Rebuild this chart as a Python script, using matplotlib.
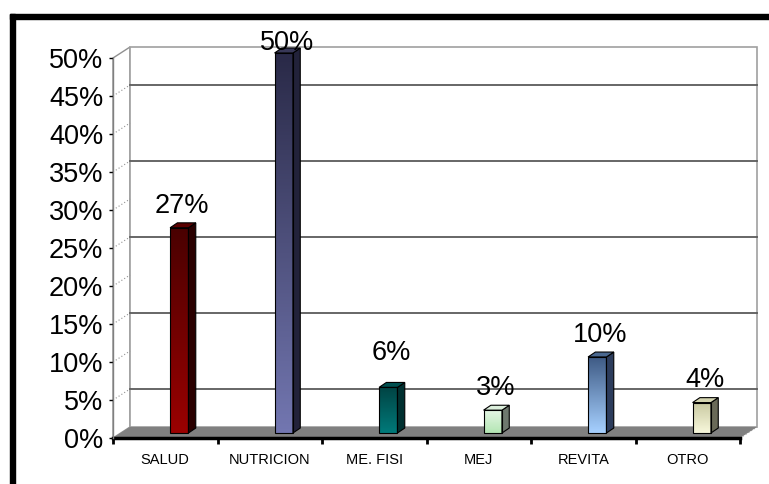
import numpy as np
import matplotlib.pyplot as plt
from matplotlib.patches import Polygon, Rectangle
from matplotlib.colors import LinearSegmentedColormap

plt.rcParams['font.family'] = ['Liberation Sans', 'DejaVu Sans']

categorias = ['SALUD', 'NUTRICION', 'ME. FISI', 'MEJ', 'REVITA', 'OTRO']
valores = [27, 50, 6, 3, 10, 4]
# (arriba, abajo, lado, tapa)
colores = [
    ('#4a0000', '#9a0000', '#2a0000', '#5a0000'),
    ('#2a2a48', '#7276b0', '#22223a', '#383858'),
    ('#004444', '#007a7a', '#003030', '#005050'),
    ('#e4f6e4', '#b4e6b4', '#6e786e', '#dcefdc'),
    ('#3e5a84', '#a6d0ff', '#2c3c5c', '#4a6890'),
    ('#c8c8a0', '#f8f8dc', '#6a6a58', '#d4d4b0'),
]
yticks = list(range(0, 51, 5))
grid_vals = [5, 15, 25, 35, 45]

fig = plt.figure(figsize=(7.69, 4.84), dpi=100)
ax = fig.add_axes([113 / 769, 46 / 484, 627 / 769, 380 / 484])

# profundidad del 3D (unidades de datos)
dx, dy = 0.163, 1.45
bdx, bdy = 0.07, 0.65
shift, hw, fy = 0.134, 0.088, 0.66
n = len(categorias)
xl, xr = -0.5, n - 0.5

# piso
ax.add_patch(Polygon([(xl, 0), (xr, 0), (xr + dx, dy), (xl + dx, dy)],
                     closed=True, facecolor='#808080', edgecolor='none',
                     zorder=1, clip_on=False))
# pared lateral y pared del fondo
ax.add_patch(Polygon([(xl, 0), (xl, 50), (xl + dx, 50 + dy), (xl + dx, dy)],
                     closed=True, facecolor='white', edgecolor='#909090',
                     lw=1, zorder=0.5, clip_on=False))
ax.add_patch(Rectangle((xl + dx, dy), xr - xl, 50, facecolor='white',
                       edgecolor='#a0a0a0', lw=1.2, zorder=0.5, clip_on=False))
for g in grid_vals:
    ax.plot([xl + dx, xr + dx], [g + dy, g + dy], color='#5a5a5a', lw=1.3,
            zorder=0.8, clip_on=False)
for t in yticks[1:-1]:
    ax.plot([xl, xl + dx], [t, t + dy], color='#909090', lw=0.8,
            ls=(0, (1, 2)), zorder=0.8, clip_on=False)
ax.plot([xr, xr + dx], [0, dy], color='#909090', lw=0.8, ls=(0, (1, 2)),
        zorder=1.1, clip_on=False)

# desplazamiento vertical de cada etiqueta (puntos)
lift = [3, -6, 12, 3, 3, 3]

# barras
grad = np.linspace(0, 1, 64).reshape(-1, 1)
for i, (v, c) in enumerate(zip(valores, colores)):
    x0, x1 = i + shift - hw, i + shift + hw
    cmap = LinearSegmentedColormap.from_list('g%d' % i, [c[1], c[0]])
    ax.imshow(grad, extent=(x0, x1, fy, fy + v), origin='lower', cmap=cmap,
              aspect='auto', zorder=3, clip_on=False, interpolation='bilinear')
    ax.add_patch(Rectangle((x0, fy), x1 - x0, v, facecolor='none',
                           edgecolor='black', lw=0.8, zorder=4, clip_on=False))
    ax.add_patch(Polygon([(x1, fy), (x1 + bdx, fy + bdy),
                          (x1 + bdx, fy + v + bdy), (x1, fy + v)],
                         closed=True, facecolor=c[2], edgecolor='black',
                         lw=0.8, zorder=3, clip_on=False))
    ax.add_patch(Polygon([(x0, fy + v), (x1, fy + v),
                          (x1 + bdx, fy + v + bdy), (x0 + bdx, fy + v + bdy)],
                         closed=True, facecolor=c[3], edgecolor='black',
                         lw=0.8, zorder=3, clip_on=False))
    ax.annotate('%d%%' % v, xy=(i + 0.163, fy + v + bdy), xytext=(0, lift[i]),
                textcoords='offset points', ha='center', va='bottom',
                fontsize=19.5, zorder=5, annotation_clip=False)

ax.set_xlim(xl, xr)
ax.set_ylim(0, 50)

for s in ['top', 'right']:
    ax.spines[s].set_visible(False)
ax.spines['left'].set_color('#808080')
ax.spines['left'].set_linewidth(1)
ax.spines['bottom'].set_color('black')
ax.spines['bottom'].set_linewidth(2.5)
ax.spines['bottom'].set_zorder(2)

ax.set_yticks(yticks)
ax.set_yticklabels(['%d%%' % t for t in yticks], fontsize=19.5)
ax.tick_params(axis='y', direction='out', length=3, width=1, color='black', pad=4)
ax.set_xticks(range(n))
ax.set_xticklabels(categorias, fontsize=10.5)
ax.set_xticks(np.arange(xl, xr + 0.01, 1), minor=True)
ax.tick_params(axis='x', which='major', length=0, pad=11)
ax.tick_params(axis='x', which='minor', direction='out', length=4.5,
               width=2, color='black')

# marco exterior
fig.patches.append(Rectangle((10 / 769, 0), 5 / 769, 1 - 14 / 484,
                             transform=fig.transFigure, color='black',
                             zorder=10))
fig.patches.append(Rectangle((10 / 769, 1 - 19 / 484), 1, 5 / 484,
                             transform=fig.transFigure, color='black',
                             zorder=10))

fig.savefig('out.png', dpi=100)
